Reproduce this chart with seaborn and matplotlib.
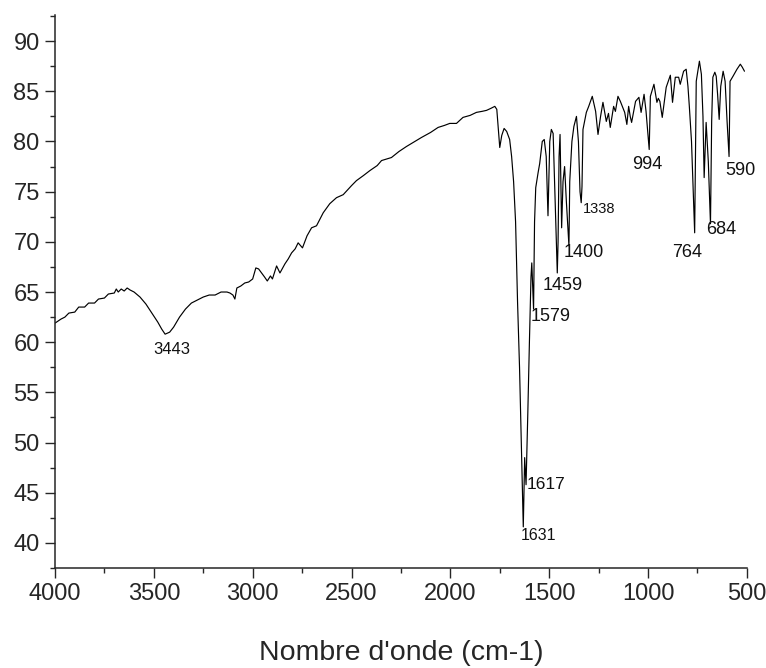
import matplotlib
matplotlib.use('Agg')
import matplotlib.pyplot as plt
import seaborn as sns
import pandas as pd
from matplotlib.ticker import MultipleLocator

# Spectre IR (nombre d'onde en cm-1, transmittance en %)
nombre_onde = [
    4000, 3970, 3950, 3930, 3900, 3880, 3850, 3830, 3800, 3780, 3750, 3730, 3700, 3690,
    3680, 3665, 3650, 3635, 3620, 3600, 3570, 3540, 3510,
    3480, 3460, 3443, 3420, 3400, 3370, 3340, 3310, 3280, 3250, 3220, 3190, 3160, 3130,
    3115, 3100, 3090, 3080, 3060, 3040, 3020, 3000, 2984, 2970, 2955, 2940, 2926, 2910,
    2900, 2879, 2862, 2837, 2820, 2803, 2785, 2770, 2748, 2725, 2702, 2677, 2643, 2610,
    2576, 2542, 2500, 2475, 2440, 2407, 2370, 2348, 2298, 2260, 2222, 2180, 2146, 2100,
    2062, 2030, 2003, 1969, 1936, 1900, 1868, 1840, 1817, 1795, 1775, 1765, 1750, 1740,
    1728, 1715, 1700, 1690, 1680, 1670, 1660, 1650, 1640, 1631, 1624, 1617, 1608, 1600,
    1592, 1588, 1579, 1574, 1568, 1556, 1548, 1535, 1525, 1515, 1506, 1497, 1489, 1480,
    1470, 1459, 1455, 1450, 1445, 1437, 1430, 1422, 1413, 1400, 1396, 1385, 1375, 1362,
    1352, 1344, 1338, 1334, 1329, 1312, 1300, 1282, 1265, 1253, 1240, 1228, 1211, 1200,
    1191, 1174, 1165, 1152, 1140, 1118, 1107, 1098, 1090, 1083, 1063, 1046, 1035, 1020,
    1010, 994, 988, 970, 955, 948, 940, 928, 908, 887, 876, 862, 845, 837, 820, 807, 798,
    791, 780, 764, 756, 740, 730, 722, 716, 706, 695, 684, 678, 672, 662, 655, 648, 640,
    632, 620, 610, 600, 590, 585, 570, 550, 533, 523, 512,
]
transmittance = [
    61.9, 62.3, 62.5, 62.9, 63.0, 63.5, 63.5, 63.9, 63.9, 64.3, 64.4, 64.8, 64.9, 65.3,
    65.0, 65.3, 65.1, 65.4, 65.2, 65.0, 64.5, 63.8, 62.9,
    62.0, 61.3, 60.8, 61.0, 61.5, 62.5, 63.3, 63.9, 64.2, 64.5, 64.7, 64.7, 65.0, 65.0,
    64.9, 64.7, 64.3, 65.4, 65.6, 65.9, 66.0, 66.3, 67.4, 67.3, 66.9, 66.5, 66.1, 66.6,
    66.3, 67.6, 66.9, 67.8, 68.3, 68.9, 69.3, 69.9, 69.4, 70.6, 71.4, 71.6, 72.9, 73.8,
    74.4, 74.7, 75.6, 76.1, 76.6, 77.1, 77.6, 78.1, 78.4, 79.0, 79.5, 80.0, 80.4, 80.9,
    81.4, 81.6, 81.8, 81.8, 82.4, 82.6, 82.9, 83.0, 83.1, 83.3, 83.5, 83.2, 79.4, 80.6,
    81.3, 81.0, 80.2, 78.5, 76.0, 72.0, 64.0, 57.5, 49.0, 41.6, 48.5, 45.8, 53.0, 60.0,
    66.5, 67.9, 63.3, 72.0, 75.4, 76.9, 77.8, 80.0, 80.2, 78.5, 72.6, 80.0, 81.2, 80.8,
    74.0, 66.9, 70.0, 78.5, 80.7, 71.4, 76.0, 77.5, 74.0, 69.6, 76.0, 80.0, 81.5, 82.5,
    80.0, 75.0, 73.9, 75.5, 81.2, 82.9, 83.5, 84.5, 83.0, 80.7, 82.5, 83.9, 82.0, 82.8,
    81.4, 83.5, 83.0, 84.5, 84.0, 82.9, 81.7, 83.5, 82.5, 81.9, 84.0, 84.4, 82.9, 84.7,
    83.0, 79.2, 84.5, 85.7, 83.9, 84.3, 84.0, 82.4, 85.4, 86.6, 83.9, 86.4, 86.4, 85.7,
    87.0, 87.2, 85.5, 83.5, 80.0, 70.9, 86.0, 88.0, 86.7, 82.5, 76.4, 81.9, 78.0, 71.8,
    82.0, 86.4, 86.9, 86.5, 84.7, 82.2, 85.5, 87.0, 86.0, 82.0, 78.5, 86.0, 86.5, 87.2,
    87.7, 87.4, 87.0,
]

# Bandes annotées
pics = [3443, 1631, 1617, 1579, 1459, 1400, 1338, 994, 764, 684, 590]
etiquettes = ['3443', '1631', '1617', '1579', '1459', '1400', '1338', '994', '764', '684', '590']
# décalage du texte (points) et taille de police
decalages = [(-8.6, -10.8), (-1.7, -6.2), (0.7, 0.0), (-1.9, -5.3), (-10.4, -9.1),
             (-3.6, -4.8), (1.2, -4.2), (-12.5, -10.9), (-16.4, -14.2), (-3.3, -4.1),
             (-3.0, -10.1)]
tailles = [12, 11.5, 12.5, 13, 13, 13, 10.5, 13, 13, 13, 13]

df = pd.DataFrame({'onde': nombre_onde, 'T': transmittance})

sns.set_style('ticks')
plt.rcParams['font.family'] = ['Liberation Sans', 'DejaVu Sans']

fig = plt.figure(figsize=(7.66, 6.68), dpi=100)
ax = fig.add_axes([0.0718, 0.1497, 0.9032, 0.8278])

sns.lineplot(data=df, x='onde', y='T', color='black', linewidth=0.85,
             estimator=None, sort=False, ax=ax)

for pic, txt, (dx, dy), fs in zip(pics, etiquettes, decalages, tailles):
    t = transmittance[nombre_onde.index(pic)]
    ax.annotate(txt, xy=(pic, t), xytext=(dx, dy), textcoords='offset points',
                ha='left', va='center', fontsize=fs, color='#111111')

ax.set_xlim(4000, 500)
ax.set_ylim(37.5, 92.6)
ax.xaxis.set_major_locator(MultipleLocator(500))
ax.xaxis.set_minor_locator(MultipleLocator(250))
ax.yaxis.set_major_locator(MultipleLocator(5))
ax.yaxis.set_minor_locator(MultipleLocator(2.5))
ax.tick_params(which='major', direction='out', length=7, width=1.0, labelsize=17, pad=4)
ax.tick_params(which='minor', direction='out', length=3.5, width=1.0)
for s in ['left', 'bottom']:
    ax.spines[s].set_linewidth(1.1)
sns.despine(ax=ax)

ax.set_xlabel("Nombre d'onde (cm-1)", fontsize=20.5)
ax.xaxis.set_label_coords(0.5, -0.13)
ax.set_ylabel('')

fig.savefig('out.png', dpi=100)
